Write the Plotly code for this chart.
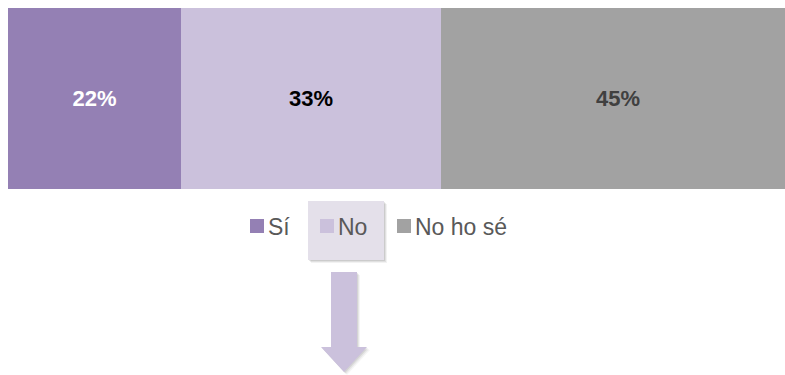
import plotly.graph_objects as go

categories = ["Sí", "No", "No ho sé"]
values = [22, 33, 45]
colors = ["#9480B4", "#CBC1DC", "#A2A2A2"]
label_colors = ["#FFFFFF", "#000000", "#404040"]

W, H = 785, 375

def px(x):
    return x / W

def py(y):
    return 1 - y / H

fig = go.Figure()
for cat, val, col, lc in zip(categories, values, colors, label_colors):
    fig.add_trace(go.Bar(
        y=[0], x=[val], orientation="h", name=cat,
        marker=dict(color=col, line=dict(width=0)),
        text=[f"{val}%"], textposition="inside", insidetextanchor="middle",
        textfont=dict(color=lc, size=22, family="Liberation Sans, Arial"),
        texttemplate="<b>%{text}</b>",
        showlegend=False, hoverinfo="skip",
    ))

fig.update_layout(
    width=W, height=H,
    margin=dict(l=0, r=0, t=0, b=0),
    paper_bgcolor="white", plot_bgcolor="white",
    barmode="stack", bargap=0,
    uniformtext=dict(mode=False),
    # the bar runs slightly past the right edge of the picture
    xaxis=dict(domain=[px(8), 1], range=[0, 98.7], visible=False, fixedrange=True),
    yaxis=dict(domain=[py(189), py(8)], range=[-0.5, 0.5], visible=False, fixedrange=True),
    font=dict(family="Liberation Sans, Arial", color="#595959"),
)

shapes = []
# highlight box behind "No" (with soft shadow)
for off, op in [(3, 0.05), (2, 0.07), (1, 0.09)]:
    shapes.append(dict(type="rect", xref="paper", yref="paper",
                       x0=px(308 + off), x1=px(384 + off), y0=py(260 + off), y1=py(201 + off),
                       fillcolor=f"rgba(0,0,0,{op})", line=dict(width=0), layer="below"))
shapes.append(dict(type="rect", xref="paper", yref="paper",
                   x0=px(308), x1=px(384), y0=py(260), y1=py(201),
                   fillcolor="#E4E0EA", line=dict(width=0), layer="below"))

# custom legend
leg_marker_x = [250, 320, 397]
leg_text_x = [266, 336, 413]
leg_y = 226
annotations = []
for cat, col, mx, tx in zip(categories, colors, leg_marker_x, leg_text_x):
    shapes.append(dict(type="rect", xref="paper", yref="paper",
                       x0=px(mx), x1=px(mx + 14), y0=py(leg_y + 7), y1=py(leg_y - 7),
                       fillcolor=col, line=dict(width=0)))
    annotations.append(dict(x=px(tx), y=py(leg_y + 1), xref="paper", yref="paper",
                            text=cat, showarrow=False, xanchor="left", yanchor="middle",
                            font=dict(size=23, color="#595959", family="Liberation Sans, Arial")))

# down arrow
def arrow_path(dx=0, dy=0):
    pts = [(331, 272), (357, 272), (357, 347), (367, 347), (344, 372), (321, 347), (331, 347)]
    return "M " + " L ".join(f"{px(x + dx)},{py(y + dy)}" for x, y in pts) + " Z"

for off, op in [(3, 0.04), (2, 0.06), (1, 0.08)]:
    shapes.append(dict(type="path", xref="paper", yref="paper", path=arrow_path(off, off),
                       fillcolor=f"rgba(0,0,0,{op})", line=dict(width=0)))
shapes.append(dict(type="path", xref="paper", yref="paper", path=arrow_path(),
                   fillcolor="#CBC1DC", line=dict(width=0)))

fig.update_layout(shapes=shapes, annotations=annotations)

fig.write_html(
    "out.html",
    config={"displayModeBar": False, "responsive": False},
    post_script="document.body.style.margin='0';document.body.style.overflow='hidden';",
)
